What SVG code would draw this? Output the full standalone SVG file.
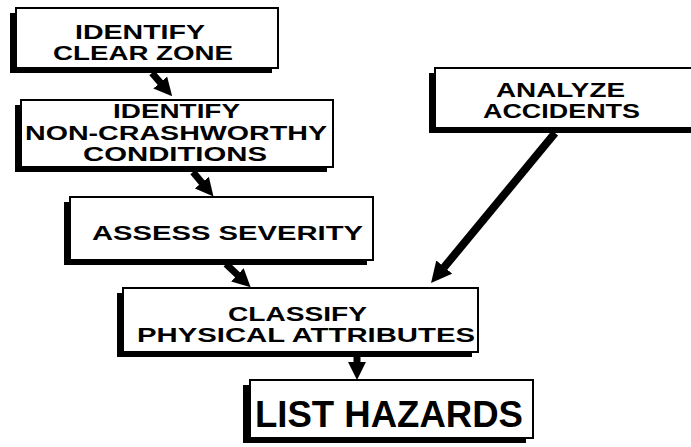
<svg xmlns="http://www.w3.org/2000/svg" width="691" height="447" viewBox="0 0 691 447">
<style>
.sh{fill:#000}
.bx{fill:#fff;stroke:#000;stroke-width:2}
.t{font-family:"Liberation Sans",Arial,Helvetica,sans-serif;font-weight:bold;font-size:21px;fill:#000}
.big{font-size:36px}
.c{stroke:#000;fill:none;stroke-linecap:butt}
</style>
<defs>
<marker id="ah" viewBox="0 0 10 10" markerWidth="2.6" markerHeight="2.6" refX="4" refY="5" orient="auto" markerUnits="strokeWidth">
<path d="M0,0 L10,5 L0,10 z" fill="#000"/>
</marker>
</defs>
<rect width="691" height="447" fill="#fff"/>
<g id="clear-zone">
<rect class="sh" x="10" y="13" width="262" height="60"/>
<rect class="bx" x="16" y="8" width="262" height="60"/>
<text class="t" x="75" y="39" textLength="130" lengthAdjust="spacingAndGlyphs">IDENTIFY</text>
<text class="t" x="53" y="60" textLength="180" lengthAdjust="spacingAndGlyphs">CLEAR ZONE</text>
</g>
<g id="non-crashworthy">
<rect class="sh" x="15" y="105" width="312" height="67"/>
<rect class="bx" x="21" y="100" width="312" height="67"/>
<text class="t" x="113" y="118" textLength="127" lengthAdjust="spacingAndGlyphs">IDENTIFY</text>
<text class="t" x="25" y="140" textLength="302" lengthAdjust="spacingAndGlyphs">NON-CRASHWORTHY</text>
<text class="t" x="83" y="161" textLength="184" lengthAdjust="spacingAndGlyphs">CONDITIONS</text>
</g>
<g id="assess-severity">
<rect class="sh" x="64" y="202" width="303" height="63"/>
<rect class="bx" x="70" y="197" width="303" height="63"/>
<text class="t" x="92" y="240" textLength="271" lengthAdjust="spacingAndGlyphs">ASSESS SEVERITY</text>
</g>
<g id="analyze-accidents">
<rect class="sh" x="429" y="73" width="280" height="60"/>
<rect class="bx" x="435" y="68" width="280" height="60"/>
<text class="t" x="496" y="97" textLength="129" lengthAdjust="spacingAndGlyphs">ANALYZE</text>
<text class="t" x="483" y="118" textLength="157" lengthAdjust="spacingAndGlyphs">ACCIDENTS</text>
</g>
<g id="classify">
<rect class="sh" x="117" y="293" width="355" height="64"/>
<rect class="bx" x="123" y="288" width="355" height="64"/>
<text class="t" x="228" y="321" textLength="139" lengthAdjust="spacingAndGlyphs">CLASSIFY</text>
<text class="t" x="137" y="342" textLength="338" lengthAdjust="spacingAndGlyphs">PHYSICAL ATTRIBUTES</text>
</g>
<g id="list-hazards">
<rect class="sh" x="243" y="385" width="283" height="58"/>
<rect class="bx" x="250" y="380" width="283" height="58"/>
<text class="t big" x="255" y="427" textLength="268" lengthAdjust="spacingAndGlyphs">LIST HAZARDS</text>
</g>
<g id="connectors">
<path class="c" stroke-width="7" d="M152,73 L165,88" marker-end="url(#ah)"/>
<path class="c" stroke-width="7" d="M193,172 L206.5,188.2" marker-end="url(#ah)"/>
<path class="c" stroke-width="7" d="M226,264 L242.7,279.8" marker-end="url(#ah)"/>
<path class="c" stroke-width="7" d="M357,357 L357,369" marker-end="url(#ah)"/>
<path class="c" stroke-width="8" d="M555,133 L439,273.5" marker-end="url(#ah)"/>
</g>
</svg>
